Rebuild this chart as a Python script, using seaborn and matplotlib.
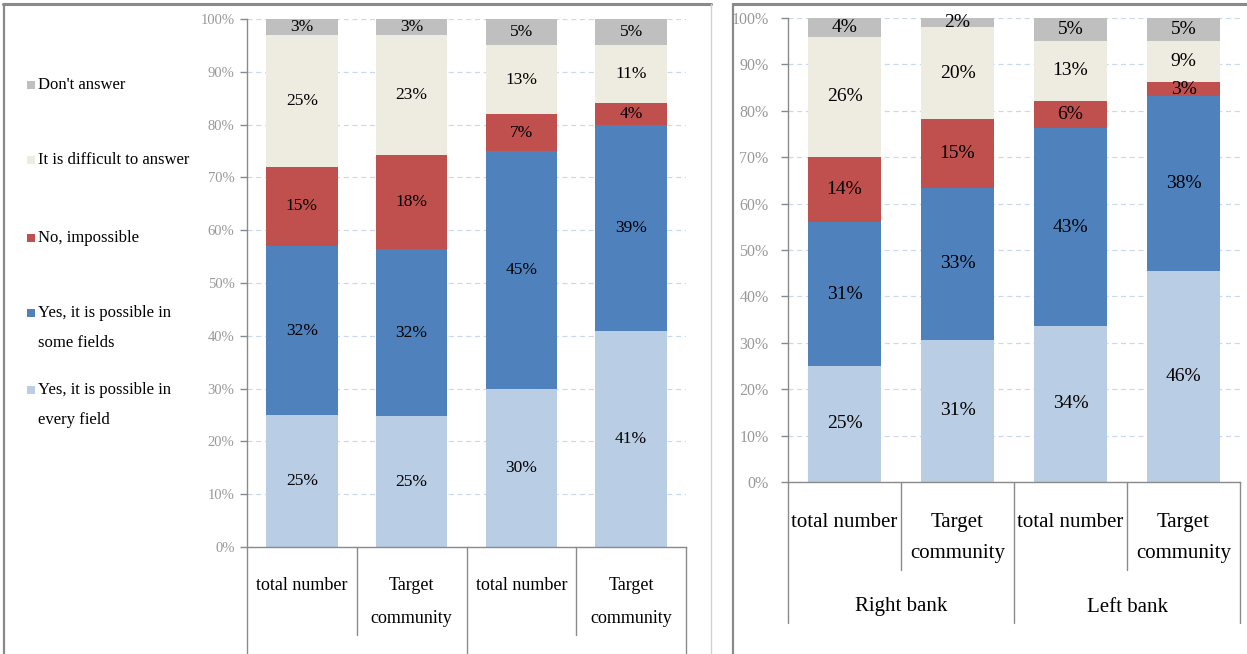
import numpy as np
import matplotlib
matplotlib.use("Agg")
import matplotlib.pyplot as plt
from matplotlib.lines import Line2D
from matplotlib.patches import Rectangle
import seaborn as sns

# Answer options, listed from the bottom of each stack upwards
answers = ["Yes, it is possible in\nevery field",
           "Yes, it is possible in\nsome fields",
           "No, impossible",
           "It is difficult to answer",
           "Don't answer"]
colors = ["#B9CDE5", "#4F81BD", "#C0504D", "#EEECE1", "#BFBFBF"]

respondents = ["total number", "Target\ncommunity", "total number", "Target\ncommunity"]
banks = ["Right bank", "Left bank"]

# Left chart, percent of respondents per answer
left_every = [25, 25, 30, 41]
left_some = [32, 32, 45, 39]
left_no = [15, 18, 7, 4]
left_difficult = [25, 23, 13, 11]
left_dont = [3, 3, 5, 5]

# Right chart, percent of respondents per answer
right_every = [25, 31, 34, 46]
right_some = [31, 33, 43, 38]
right_no = [14, 15, 6, 3]
right_difficult = [26, 20, 13, 9]
right_dont = [4, 2, 5, 5]

W, H = 1247, 654
sns.set_style("white")
plt.rcParams["font.family"] = ["Liberation Serif", "DejaVu Serif"]

fig = plt.figure(figsize=(W / 100, H / 100), dpi=100)
fig.patch.set_facecolor("white")


def fx(x):
    return x / W


def fy(y):
    return 1 - y / H


def panel_axes(x0, x1, ytop, ybot):
    return fig.add_axes([fx(x0), fy(ybot), fx(x1 - x0), (ybot - ytop) / H])


keys = [f"{banks[i // 2]} / {respondents[i]}" for i in range(4)]


def draw_panel(ax, layers, value_size, tick_size, tick_pad, cat_size,
               cat_y, cat_spacing, short_sep, long_sep, group_y=None):
    vals = np.array(layers, dtype=float)
    share = vals / vals.sum(axis=0) * 100          # 100 % stacked columns
    tops = share.cumsum(axis=0)

    # draw the stacks from the top layer down so each layer covers the rest
    for k in reversed(range(len(vals))):
        sns.barplot(x=keys, y=tops[k], order=keys, color=colors[k],
                    saturation=1, width=0.65, errorbar=None,
                    linewidth=0, ax=ax, zorder=2)

    for k in range(len(vals)):
        for i in range(vals.shape[1]):
            ax.text(i, tops[k, i] - share[k, i] / 2, f"{vals[k, i]:.0f}%",
                    ha="center", va="center", fontsize=value_size,
                    color="black", zorder=5)

    ax.set_xlim(-0.5, 3.5)
    ax.set_ylim(0, 100)
    ax.set_yticks(range(0, 101, 10))
    ax.set_yticklabels([f"{t}%" for t in range(0, 101, 10)])
    ax.set_xlabel("")
    ax.set_ylabel("")
    ax.yaxis.grid(True, linestyle=(0, (4, 3)), color="#C8D8EE", linewidth=0.9)
    ax.xaxis.grid(False)
    ax.set_axisbelow(True)
    for s in ("top", "right"):
        ax.spines[s].set_visible(False)
    for s in ("left", "bottom"):
        ax.spines[s].set_color("#8A8A8A")
        ax.spines[s].set_linewidth(1.0)
    ax.tick_params(axis="y", direction="out", length=5, width=1,
                   color="#8A8A8A", labelcolor="#999999",
                   labelsize=tick_size, pad=tick_pad, left=True)
    ax.tick_params(axis="x", length=0, labelbottom=False)

    # category separators below the axis
    tr = ax.get_xaxis_transform()
    for x in (0.5, 2.5):
        ax.add_line(Line2D([x, x], [0, short_sep], transform=tr,
                           color="#8A8A8A", lw=1, clip_on=False))
    for x in (-0.5, 1.5, 3.5):
        ax.add_line(Line2D([x, x], [0, long_sep], transform=tr,
                           color="#8A8A8A", lw=1, clip_on=False))

    for i, lab in enumerate(respondents):
        ax.text(i, cat_y, lab, transform=tr, ha="center", va="top",
                fontsize=cat_size, linespacing=cat_spacing, color="black",
                clip_on=False)
    if group_y is not None:
        for g, name in enumerate(banks):
            ax.text(2 * g + 0.5, group_y, name, transform=tr, ha="center",
                    va="center", fontsize=cat_size, color="black",
                    clip_on=False)


# ---- left chart -------------------------------------------------------------
axL = panel_axes(247, 686, 19, 547)
draw_panel(axL, [left_every, left_some, left_no, left_difficult, left_dont],
           value_size=12.5, tick_size=10.5, tick_pad=4, cat_size=13,
           cat_y=(547 - 577) / 528, cat_spacing=2.2,
           short_sep=(547 - 635) / 528, long_sep=(547 - 700) / 528)

# ---- right chart ------------------------------------------------------------
axR = panel_axes(788, 1240, 18, 482)
draw_panel(axR, [right_every, right_some, right_no, right_difficult, right_dont],
           value_size=14, tick_size=11.5, tick_pad=9, cat_size=15,
           cat_y=(482 - 513) / 464, cat_spacing=1.85,
           short_sep=(482 - 570) / 464, long_sep=(482 - 623) / 464,
           group_y=(482 - 607) / 464)

# ---- legend of the left chart -------------------------------------------------
legend_rows = [85, 160, 238, 313, 390]
legend_order = list(reversed(range(len(answers))))
for row_y, k in zip(legend_rows, legend_order):
    fig.add_artist(Rectangle((fx(27), fy(row_y + 4)), fx(8), 8 / H,
                             transform=fig.transFigure, facecolor=colors[k],
                             edgecolor="none"))
    for j, line in enumerate(answers[k].split("\n")):
        fig.text(fx(38), fy(row_y + 30 * j), line, ha="left", va="center",
                 fontsize=12, color="black")

# ---- panel frames -------------------------------------------------------------
frame = "#8A8A8A"
fig.add_artist(Line2D([fx(3), fx(711)], [fy(4), fy(4)], transform=fig.transFigure,
                      color=frame, lw=2.2))
fig.add_artist(Line2D([fx(4), fx(4)], [fy(4), fy(H + 2)], transform=fig.transFigure,
                      color=frame, lw=1.6))
fig.add_artist(Line2D([fx(711), fx(711)], [fy(4), fy(H + 2)], transform=fig.transFigure,
                      color="#D2D2D2", lw=1.0))
fig.add_artist(Line2D([fx(733), fx(W + 2)], [fy(4), fy(4)], transform=fig.transFigure,
                      color=frame, lw=2.2))
fig.add_artist(Line2D([fx(733), fx(733)], [fy(4), fy(H + 2)], transform=fig.transFigure,
                      color=frame, lw=1.6))

fig.savefig("out.png", dpi=100, facecolor="white")
